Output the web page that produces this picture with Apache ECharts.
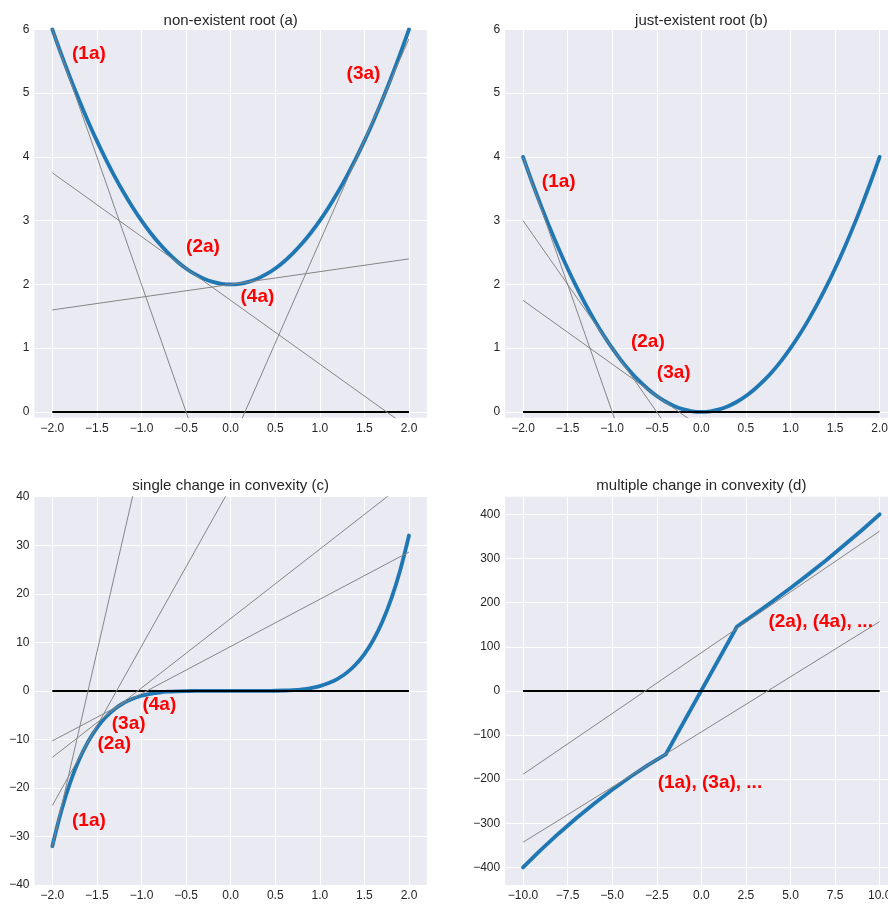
<!DOCTYPE html>
<html>
<head>
<meta charset="utf-8">
<script src="https://cdn.jsdelivr.net/npm/echarts@6/dist/echarts.min.js"></script>
<style>
  html, body { margin: 0; padding: 0; background: #ffffff; }
  #chart { width: 888px; height: 904px; }
</style>
</head>
<body>
<div id="chart"></div>
<script>
// ---- sample points shared by the three polynomial panels ----
const xFine = [-2.0, -1.9, -1.8, -1.7, -1.6, -1.5, -1.4, -1.3, -1.2, -1.1, -1.0,
               -0.9, -0.8, -0.7, -0.6, -0.5, -0.4, -0.3, -0.2, -0.1, 0.0,
               0.1, 0.2, 0.3, 0.4, 0.5, 0.6, 0.7, 0.8, 0.9, 1.0,
               1.1, 1.2, 1.3, 1.4, 1.5, 1.6, 1.7, 1.8, 1.9, 2.0];

// (a) parabola lifted above the axis: no root
const curveA = [6.00, 5.61, 5.24, 4.89, 4.56, 4.25, 3.96, 3.69, 3.44, 3.21, 3.00,
                2.81, 2.64, 2.49, 2.36, 2.25, 2.16, 2.09, 2.04, 2.01, 2.00,
                2.01, 2.04, 2.09, 2.16, 2.25, 2.36, 2.49, 2.64, 2.81, 3.00,
                3.21, 3.44, 3.69, 3.96, 4.25, 4.56, 4.89, 5.24, 5.61, 6.00];

// (b) parabola touching the axis: double root at 0
const curveB = [4.00, 3.61, 3.24, 2.89, 2.56, 2.25, 1.96, 1.69, 1.44, 1.21, 1.00,
                0.81, 0.64, 0.49, 0.36, 0.25, 0.16, 0.09, 0.04, 0.01, 0.00,
                0.01, 0.04, 0.09, 0.16, 0.25, 0.36, 0.49, 0.64, 0.81, 1.00,
                1.21, 1.44, 1.69, 1.96, 2.25, 2.56, 2.89, 3.24, 3.61, 4.00];

// (c) quintic with one inflection point
const curveC = [-32.000, -24.761, -18.896, -14.199, -10.486, -7.594, -5.378, -3.713, -2.488, -1.611, -1.000,
                -0.590, -0.328, -0.168, -0.078, -0.031, -0.010, -0.002, -0.0003, 0.0, 0.0,
                0.0, 0.0003, 0.002, 0.010, 0.031, 0.078, 0.168, 0.328, 0.590, 1.000,
                1.611, 2.488, 3.713, 5.378, 7.594, 10.486, 14.199, 18.896, 24.761, 32.000];

// (d) piecewise curve, steep straight piece between the two kinks
const xD = [-10, -9, -8, -7, -6, -5, -4, -3, -2, 2, 3, 4, 5, 6, 7, 8, 9, 10];
const curveD = [-400, -360, -323, -288, -255, -224, -195, -168, -144,
                146, 174, 203, 233, 264, 296, 330, 364, 400];

// tangent segments, each as [[x0, y0], [x1, y1]]
const tangentsA = [
  [[-2, 6.00], [2, -10.00]],
  [[-2, 3.75], [2, -0.25]],
  [[-2, -6.87], [2, 5.85]],
  [[-2, 1.60], [2, 2.40]]
];
const tangentsB = [
  [[-2, 4.00], [2, -12.00]],
  [[-2, 3.00], [2, -5.00]],
  [[-2, 1.75], [2, -2.25]]
];
const tangentsC = [
  [[-2, -32.0], [2, 288.0]],
  [[-2, -23.6], [2, 107.5]],
  [[-2, -13.7], [2, 43.5]],
  [[-2, -10.3], [2, 28.6]]
];
const tangentsD = [
  [[-10, -189], [10, 362]],
  [[-10, -343], [10, 157]]
];

// horizontal reference line y = 0 across each domain
const zeroA = [[-2, 0], [2, 0]];
const zeroB = [[-2, 0], [2, 0]];
const zeroC = [[-2, 0], [2, 0]];
const zeroD = [[-10, 0], [10, 0]];

// iteration annotations: [x, y, text]
const labelsA = [[-1.59, 5.62, '(1a)'], [-0.31, 2.59, '(2a)'], [1.49, 5.31, '(3a)'], [0.30, 1.81, '(4a)']];
const labelsB = [[-1.60, 3.61, '(1a)'], [-0.60, 1.10, '(2a)'], [-0.31, 0.61, '(3a)']];
const labelsC = [[-1.59, -26.8, '(1a)'], [-1.305, -10.8, '(2a)'], [-1.144, -6.7, '(3a)'], [-0.80, -2.8, '(4a)']];
const labelsD = [[0.48, -208, '(1a), (3a), ...'], [6.69, 156, '(2a), (4a), ...']];

// titles and tick values
const titles = ['non-existent root (a)', 'just-existent root (b)',
                'single change in convexity (c)', 'multiple change in convexity (d)'];
const xTicksSmall = [-2, -1.5, -1, -0.5, 0, 0.5, 1, 1.5, 2];
const yTicksAB = [0, 1, 2, 3, 4, 5, 6];
const yTicksC = [-40, -30, -20, -10, 0, 10, 20, 30, 40];
const xTicksD = [-10, -7.5, -5, -2.5, 0, 2.5, 5, 7.5, 10];
const yTicksD = [-400, -300, -200, -100, 0, 100, 200, 300, 400];

// ---------------------------------------------------------------------
const FONT = "'Liberation Sans', Arial, sans-serif";
const TEXT = '#262626';
const BLUE = '#1f77b4';

function fmt(v, d) {
  return (v < 0 ? '\u2212' : '') + Math.abs(v).toFixed(d);
}

const layout = [
  { left: 34.5, top: 29.3, titleTop: 8 },
  { left: 505.2, top: 29.3, titleTop: 8 },
  { left: 34.5, top: 496.7, titleTop: 473 },
  { left: 505.2, top: 496.7, titleTop: 473 }
];
const PW = 392.3, PH = 388.4;

const panels = [
  { curve: xFine.map((x, i) => [x, curveA[i]]), smooth: 0.4, tangents: tangentsA, zero: zeroA, labels: labelsA,
    x: [-2.2, 2.2], y: [-0.09, 6], xt: xTicksSmall, yt: yTicksAB, xd: 1, yd: 0 },
  { curve: xFine.map((x, i) => [x, curveB[i]]), smooth: 0.4, tangents: tangentsB, zero: zeroB, labels: labelsB,
    x: [-2.2, 2.2], y: [-0.09, 6], xt: xTicksSmall, yt: yTicksAB, xd: 1, yd: 0 },
  { curve: xFine.map((x, i) => [x, curveC[i]]), smooth: 0.4, tangents: tangentsC, zero: zeroC, labels: labelsC,
    x: [-2.2, 2.2], y: [-40, 40], xt: xTicksSmall, yt: yTicksC, xd: 1, yd: 0 },
  { curve: xD.map((x, i) => [x, curveD[i]]), smooth: false, tangents: tangentsD, zero: zeroD, labels: labelsD,
    x: [-11, 11], y: [-440, 440], xt: xTicksD, yt: yTicksD, xd: 1, yd: 0 }
];

const grid = [], xAxis = [], yAxis = [], series = [], title = [];

panels.forEach((p, k) => {
  const L = layout[k];
  grid.push({ left: L.left, top: L.top, width: PW, height: PH, containLabel: false,
              outerBoundsMode: 'none', show: true, backgroundColor: '#eaeaf2', borderWidth: 0 });
  title.push({ text: titles[k], left: L.left + PW / 2 - 5, top: L.titleTop, textAlign: 'center',
               textStyle: { fontFamily: FONT, fontSize: 15, fontWeight: 'normal', color: TEXT } });
  const axisCommon = {
    axisLine: { show: false },
    splitLine: { show: true, lineStyle: { color: '#ffffff', width: 1 } }
  };
  xAxis.push(Object.assign({}, axisCommon, {
    type: 'value', gridIndex: k, min: p.x[0], max: p.x[1],
    axisTick: { show: false, customValues: p.xt },
    axisLabel: { customValues: p.xt, margin: 5, fontFamily: FONT, fontSize: 12, color: TEXT,
                 formatter: v => fmt(v, p.xd) }
  }));
  yAxis.push(Object.assign({}, axisCommon, {
    type: 'value', gridIndex: k, min: p.y[0], max: p.y[1],
    axisTick: { show: false, customValues: p.yt },
    axisLabel: { customValues: p.yt, margin: 5, fontFamily: FONT, fontSize: 12, color: TEXT,
                 formatter: v => fmt(v, p.yd) }
  }));

  // function curve
  series.push({ type: 'line', xAxisIndex: k, yAxisIndex: k, data: p.curve, showSymbol: false,
                symbol: 'none', smooth: p.smooth, clip: true, z: 2,
                lineStyle: { color: BLUE, width: 3.8, cap: 'round', join: 'round' } });
  // y = 0 reference line
  series.push({ type: 'line', xAxisIndex: k, yAxisIndex: k, data: p.zero, symbol: 'none', clip: true, z: 3,
                lineStyle: { color: '#000000', width: 2 } });
  // tangent lines
  p.tangents.forEach(seg => {
    series.push({ type: 'line', xAxisIndex: k, yAxisIndex: k, data: seg, symbol: 'none', clip: true, z: 4,
                  lineStyle: { color: '#858585', width: 1 } });
  });
  // iteration labels
  series.push({ type: 'scatter', xAxisIndex: k, yAxisIndex: k, symbolSize: 0, z: 5,
                itemStyle: { opacity: 1, color: '#ff0000' },
                data: p.labels.map(l => ({ value: [l[0], l[1]], name: l[2] })),
                label: { show: true, position: 'inside', formatter: d => d.name, opacity: 1,
                         textBorderWidth: 0, textBorderColor: 'transparent',
                         fontFamily: FONT, fontSize: 19, fontWeight: 'bold', color: '#ff0000' } });
});

const chart = echarts.init(document.getElementById('chart'), null, { renderer: 'canvas' });
chart.setOption({
  animation: false,
  backgroundColor: '#ffffff',
  title, grid, xAxis, yAxis, series,
  tooltip: { show: false }
});
</script>
</body>
</html>
